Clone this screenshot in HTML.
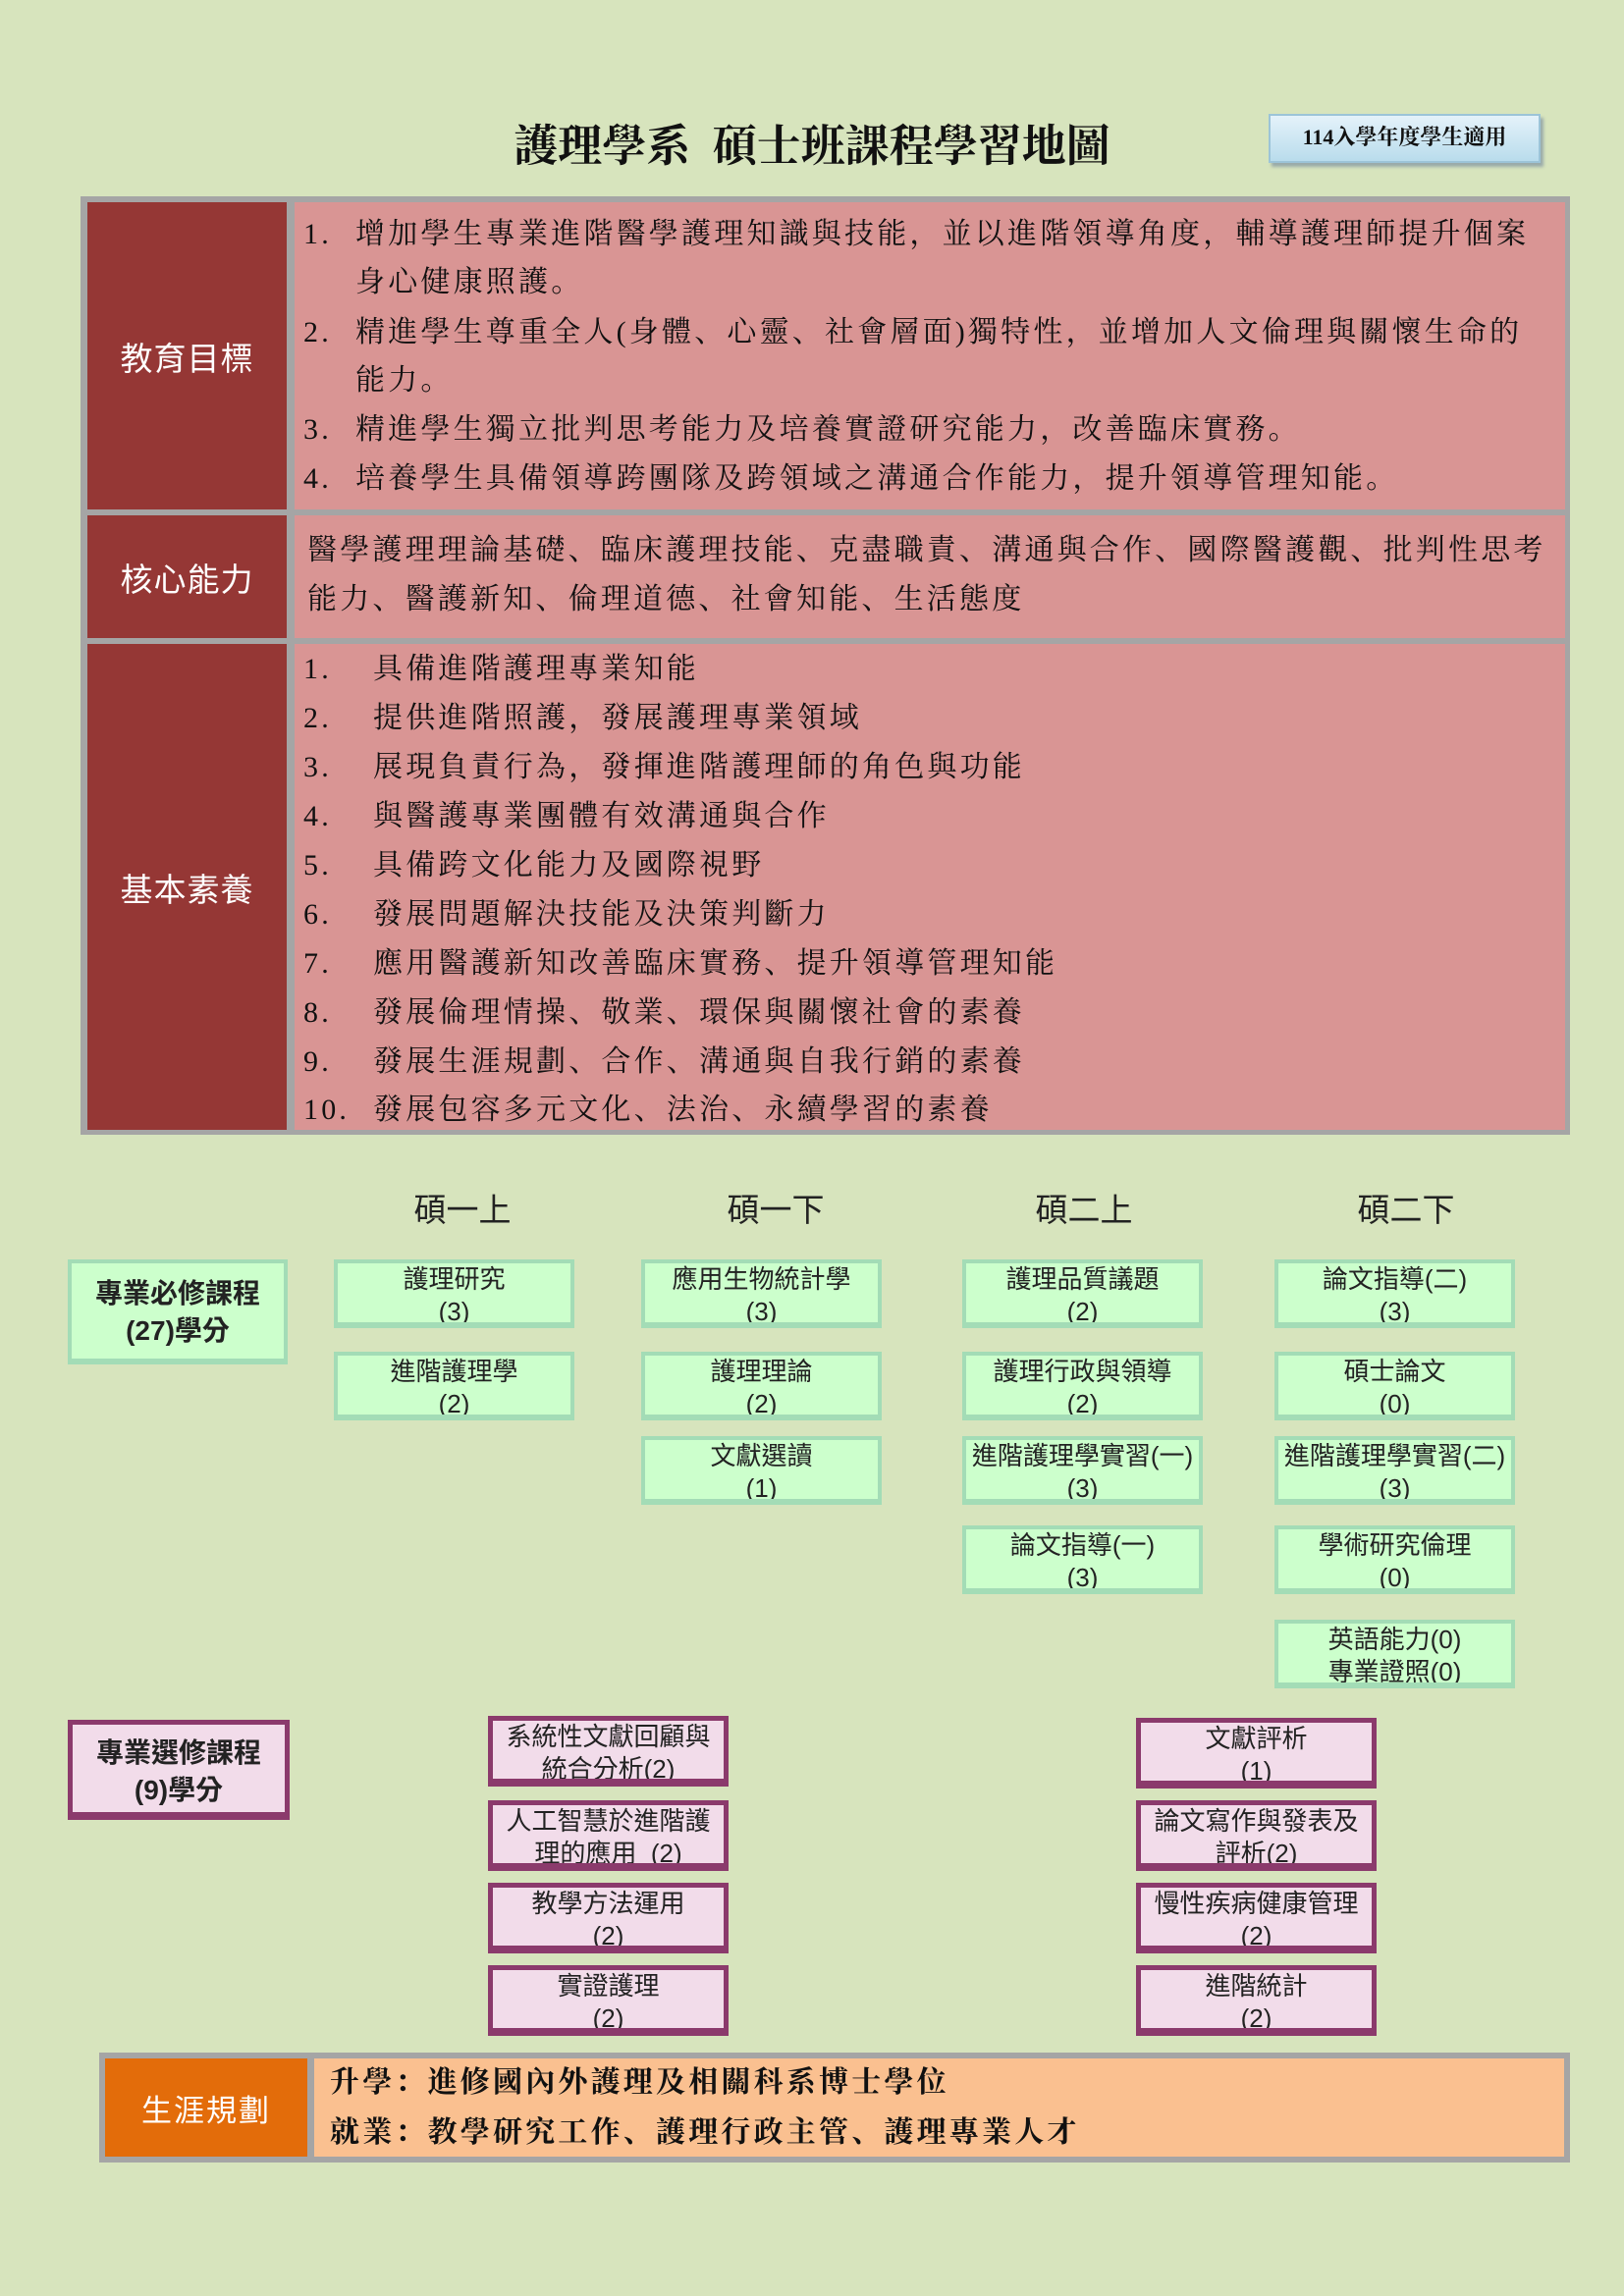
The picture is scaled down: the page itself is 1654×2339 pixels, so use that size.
<!DOCTYPE html>
<html><head><meta charset="utf-8"><style>
*{margin:0;padding:0;box-sizing:border-box}
body{width:1654px;height:2339px;background:#d7e4bd;position:relative;overflow:hidden;font-family:"Liberation Sans","Noto Sans CJK TC",sans-serif}
.a{position:absolute}
.ser{font-family:"Liberation Serif","Noto Serif CJK SC",serif}
.lbl{position:absolute;background:#953735;color:#fff;font-size:33px;display:flex;align-items:center;justify-content:center;letter-spacing:1px}
.pk{position:absolute;background:#d99594}
.ln{position:absolute;font-size:30px;letter-spacing:3.2px;color:#111;white-space:nowrap;line-height:40px}
.sem{position:absolute;font-size:33px;color:#222;width:200px;text-align:center;margin-left:-100px}
.g{position:absolute;background:#ccffcc;border:4px solid #a3dcb6;border-bottom-width:6px;text-align:center;font-size:26px;line-height:33px;color:#222;width:245px;height:70px;padding-top:0px;white-space:nowrap;overflow:hidden}
.p{position:absolute;background:#f2dcea;border:5px solid #8b3a6c;border-bottom-width:8px;text-align:center;font-size:26px;line-height:33px;color:#222;width:245px;height:72px;white-space:nowrap;overflow:hidden}
</style></head><body>
<div class="a ser" style="left:0;width:1654px;top:112px;text-align:center;font-size:45px;font-weight:bold;color:#111">護理學系&nbsp; 碩士班課程學習地圖</div>
<div class="a ser" style="left:1292px;top:116px;width:277px;height:50px;background:linear-gradient(#e4f2fa,#b9dcec);border:2px solid #9cc4d8;box-shadow:3px 4px 3px #9aa;font-size:22px;font-weight:bold;line-height:44px;text-align:center;color:#111">114入學年度學生適用</div>

<div class="a" style="left:82px;top:200px;width:1517px;height:956px;background:#a5a5a5"></div>
<div class="lbl" style="left:89px;top:206px;width:203px;height:313px">教育目標</div>
<div class="pk" style="left:300px;top:206px;width:1294px;height:313px"></div>
<div class="lbl" style="left:89px;top:525px;width:203px;height:125px">核心能力</div>
<div class="pk" style="left:300px;top:525px;width:1294px;height:125px"></div>
<div class="lbl" style="left:89px;top:656px;width:203px;height:495px">基本素養</div>
<div class="pk" style="left:300px;top:656px;width:1294px;height:495px"></div>

<div class="ser">
<div class="ln" style="left:309px;top:219px">1.</div><div class="ln" style="left:362px;top:219px">增加學生專業進階醫學護理知識與技能，並以進階領導角度，輔導護理師提升個案</div>
<div class="ln" style="left:362px;top:268px">身心健康照護。</div>
<div class="ln" style="left:309px;top:319px">2.</div><div class="ln" style="left:362px;top:319px">精進學生尊重全人(身體、心靈、社會層面)獨特性，並增加人文倫理與關懷生命的</div>
<div class="ln" style="left:362px;top:368px">能力。</div>
<div class="ln" style="left:309px;top:418px">3.</div><div class="ln" style="left:362px;top:418px">精進學生獨立批判思考能力及培養實證研究能力，改善臨床實務。</div>
<div class="ln" style="left:309px;top:468px">4.</div><div class="ln" style="left:362px;top:468px">培養學生具備領導跨團隊及跨領域之溝通合作能力，提升領導管理知能。</div>
<div class="ln" style="left:313px;top:541px">醫學護理理論基礎、臨床護理技能、克盡職責、溝通與合作、國際醫護觀、批判性思考</div>
<div class="ln" style="left:313px;top:591px">能力、醫護新知、倫理道德、社會知能、生活態度</div>
<div class="ln" style="left:309px;top:662px">1.</div><div class="ln" style="left:380px;top:662px">具備進階護理專業知能</div>
<div class="ln" style="left:309px;top:712px">2.</div><div class="ln" style="left:380px;top:712px">提供進階照護，發展護理專業領域</div>
<div class="ln" style="left:309px;top:762px">3.</div><div class="ln" style="left:380px;top:762px">展現負責行為，發揮進階護理師的角色與功能</div>
<div class="ln" style="left:309px;top:812px">4.</div><div class="ln" style="left:380px;top:812px">與醫護專業團體有效溝通與合作</div>
<div class="ln" style="left:309px;top:862px">5.</div><div class="ln" style="left:380px;top:862px">具備跨文化能力及國際視野</div>
<div class="ln" style="left:309px;top:912px">6.</div><div class="ln" style="left:380px;top:912px">發展問題解決技能及決策判斷力</div>
<div class="ln" style="left:309px;top:962px">7.</div><div class="ln" style="left:380px;top:962px">應用醫護新知改善臨床實務、提升領導管理知能</div>
<div class="ln" style="left:309px;top:1012px">8.</div><div class="ln" style="left:380px;top:1012px">發展倫理情操、敬業、環保與關懷社會的素養</div>
<div class="ln" style="left:309px;top:1062px">9.</div><div class="ln" style="left:380px;top:1062px">發展生涯規劃、合作、溝通與自我行銷的素養</div>
<div class="ln" style="left:309px;top:1111px">10.</div><div class="ln" style="left:380px;top:1111px">發展包容多元文化、法治、永續學習的素養</div>
</div>

<div class="sem" style="left:471px;top:1206px">碩一上</div>
<div class="sem" style="left:790px;top:1206px">碩一下</div>
<div class="sem" style="left:1104px;top:1206px">碩二上</div>
<div class="sem" style="left:1432px;top:1206px">碩二下</div>

<div class="g" style="left:69px;top:1283px;width:224px;height:107px;font-weight:bold;font-size:28px;line-height:38px;padding-top:12px">專業必修課程<br>(27)學分</div>

<div class="g" style="left:340px;top:1283px">護理研究<br>(3)</div>
<div class="g" style="left:340px;top:1377px">進階護理學<br>(2)</div>

<div class="g" style="left:653px;top:1283px">應用生物統計學<br>(3)</div>
<div class="g" style="left:653px;top:1377px">護理理論<br>(2)</div>
<div class="g" style="left:653px;top:1463px">文獻選讀<br>(1)</div>

<div class="g" style="left:980px;top:1283px">護理品質議題<br>(2)</div>
<div class="g" style="left:980px;top:1377px">護理行政與領導<br>(2)</div>
<div class="g" style="left:980px;top:1463px">進階護理學實習(一)<br>(3)</div>
<div class="g" style="left:980px;top:1554px">論文指導(一)<br>(3)</div>

<div class="g" style="left:1298px;top:1283px">論文指導(二)<br>(3)</div>
<div class="g" style="left:1298px;top:1377px">碩士論文<br>(0)</div>
<div class="g" style="left:1298px;top:1463px">進階護理學實習(二)<br>(3)</div>
<div class="g" style="left:1298px;top:1554px">學術研究倫理<br>(0)</div>
<div class="g" style="left:1298px;top:1650px">英語能力(0)<br>專業證照(0)</div>

<div class="p" style="left:69px;top:1752px;width:226px;height:102px;font-weight:bold;font-size:28px;line-height:38px;padding-top:10px">專業選修課程<br>(9)學分</div>

<div class="p" style="left:497px;top:1748px">系統性文獻回顧與<br>統合分析(2)</div>
<div class="p" style="left:497px;top:1834px">人工智慧於進階護<br>理的應用&nbsp; (2)</div>
<div class="p" style="left:497px;top:1918px">教學方法運用<br>(2)</div>
<div class="p" style="left:497px;top:2002px">實證護理<br>(2)</div>

<div class="p" style="left:1157px;top:1750px">文獻評析<br>(1)</div>
<div class="p" style="left:1157px;top:1834px">論文寫作與發表及<br>評析(2)</div>
<div class="p" style="left:1157px;top:1918px">慢性疾病健康管理<br>(2)</div>
<div class="p" style="left:1157px;top:2002px">進階統計<br>(2)</div>

<div class="a" style="left:101px;top:2091px;width:1498px;height:112px;background:#a5a5a5"></div>
<div class="a" style="left:107px;top:2097px;width:206px;height:100px;background:#e36c0a;color:#fff;font-size:31px;display:flex;align-items:center;justify-content:center;letter-spacing:2px">生涯規劃</div>
<div class="a" style="left:320px;top:2097px;width:1273px;height:100px;background:#fac090"></div>
<div class="ln ser" style="left:336px;top:2102px;font-weight:bold">升學：進修國內外護理及相關科系博士學位</div>
<div class="ln ser" style="left:336px;top:2153px;font-weight:bold">就業：教學研究工作、護理行政主管、護理專業人才</div>
</body></html>
